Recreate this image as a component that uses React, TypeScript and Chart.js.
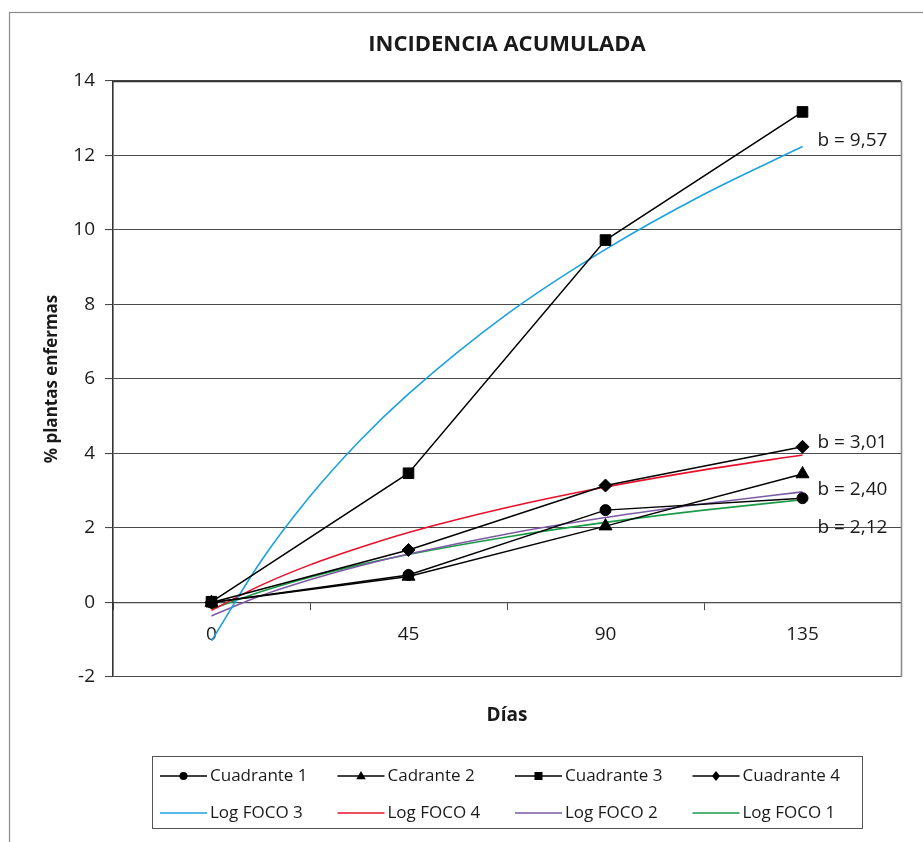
import React, { useEffect, useRef } from "react";
import { Chart, registerables } from "chart.js";

Chart.register(...registerables);

// ---- data ----
const DAYS = [0, 45, 90, 135];
const X_LABELS = ["0", "45", "90", "135"];
const CUADRANTE_1 = [0, 0.74, 2.48, 2.8];
const CADRANTE_2 = [0, 0.7, 2.05, 3.45];
const CUADRANTE_3 = [0.02, 3.47, 9.73, 13.17];
const CUADRANTE_4 = [0, 1.41, 3.14, 4.18];

const TREND_X = [0, 11.25, 22.5, 33.75, 45, 67.5, 90, 112.5, 135];
const LOG_FOCO_3 = [-1.03, 1.1, 2.85, 4.33, 5.6, 7.74, 9.48, 10.96, 12.24];
const LOG_FOCO_4 = [-0.21, 0.46, 1.01, 1.47, 1.88, 2.55, 3.1, 3.56, 3.96];
const LOG_FOCO_2 = [-0.36, 0.18, 0.61, 0.98, 1.3, 1.84, 2.28, 2.65, 2.97];
const LOG_FOCO_1 = [-0.18, 0.29, 0.68, 1.01, 1.29, 1.76, 2.15, 2.48, 2.76];

const SLOPE_LABELS = ["b = 9,57", "b = 3,01", "b = 2,40", "b = 2,12"];
const SLOPE_LABEL_Y = [12.39, 4.28, 3.02, 2.0];

const TITLE = "INCIDENCIA ACUMULADA";
const X_TITLE = "Días";
const Y_TITLE = "% plantas enfermas";

// ---- styles ----
const FONT = "'Open Sans', 'DejaVu Sans', sans-serif";
const TEXT = "#1a1a1a";
const GRID = "#4a4a4a";
const BLUE = "#1ba1e2";
const RED = "#e8102a";
const PURPLE = "#7d5aa5";
const GREEN = "#1a9b48";

const X_MIN = -22.5;
const X_MAX = 157.5;
const X_TICKS = [-22.5, 0, 22.5, 45, 67.5, 90, 112.5, 135, 157.5];

const pts = (xs: number[], ys: number[]) => xs.map((x, i) => ({ x, y: ys[i] }));

type LegendItem = { label: string; color: string; marker: string | null };
const LEGEND_ITEMS: LegendItem[] = [
  { label: "Cuadrante 1", color: "#000", marker: "circle" },
  { label: "Cadrante 2", color: "#000", marker: "triangle" },
  { label: "Cuadrante 3", color: "#000", marker: "rect" },
  { label: "Cuadrante 4", color: "#000", marker: "rectRot" },
  { label: "Log FOCO 3", color: BLUE, marker: null },
  { label: "Log FOCO 4", color: RED, marker: null },
  { label: "Log FOCO 2", color: PURPLE, marker: null },
  { label: "Log FOCO 1", color: GREEN, marker: null },
];

function drawMarker(ctx: CanvasRenderingContext2D, kind: string, x: number, y: number, s: number) {
  ctx.beginPath();
  if (kind === "circle") {
    ctx.arc(x, y, s * 0.8, 0, Math.PI * 2);
  } else if (kind === "triangle") {
    ctx.moveTo(x, y - s);
    ctx.lineTo(x + s * 0.95, y + s * 0.65);
    ctx.lineTo(x - s * 0.95, y + s * 0.65);
    ctx.closePath();
  } else if (kind === "rect") {
    ctx.rect(x - s * 0.8, y - s * 0.8, s * 1.6, s * 1.6);
  } else {
    ctx.moveTo(x, y - s);
    ctx.lineTo(x + s * 0.8, y);
    ctx.lineTo(x, y + s);
    ctx.lineTo(x - s * 0.8, y);
    ctx.closePath();
  }
  ctx.fillStyle = "#000";
  ctx.fill();
}

const decorPlugin = {
  id: "decor",
  afterDraw(chart: any) {
    const ctx: CanvasRenderingContext2D = chart.ctx;
    const area = chart.chartArea;
    const xs = chart.scales.x;
    const ys = chart.scales.y;
    ctx.save();

    // outer chart border
    ctx.strokeStyle = "#8c8c8c";
    ctx.lineWidth = 1.2;
    ctx.strokeRect(9.5, 12.5, 1200, 1200);

    // plot area top border and right border
    ctx.strokeStyle = "#333";
    ctx.lineWidth = 1.5;
    ctx.beginPath();
    ctx.moveTo(area.left, area.top + 0.5);
    ctx.lineTo(area.right, area.top + 0.5);
    ctx.stroke();
    ctx.strokeStyle = "#8c8c8c";
    ctx.lineWidth = 1.6;
    ctx.beginPath();
    ctx.moveTo(area.right + 0.5, area.top);
    ctx.lineTo(area.right + 0.5, area.bottom);
    ctx.stroke();

    // title
    const cx = (area.left + area.right) / 2;
    ctx.fillStyle = TEXT;
    ctx.textAlign = "center";
    ctx.textBaseline = "middle";
    ctx.font = `bold 22px ${FONT}`;
    ctx.fillText(TITLE, cx, 45);

    // x-axis title
    ctx.font = `bold 19px ${FONT}`;
    ctx.fillText(X_TITLE, cx, 716);

    // slope labels
    ctx.font = `19px ${FONT}`;
    ctx.textAlign = "left";
    const lx = xs.getPixelForValue(DAYS[DAYS.length - 1]) + 15;
    SLOPE_LABELS.forEach((t, i) => {
      ctx.fillText(t, lx, ys.getPixelForValue(SLOPE_LABEL_Y[i]));
    });

    // legend
    const boxL = 152.5, boxT = 756.5, boxW = 710, boxH = 72;
    ctx.strokeStyle = "#555";
    ctx.lineWidth = 1;
    ctx.strokeRect(boxL, boxT, boxW, boxH);
    const colX = [160, 337.5, 515, 692.5];
    const rowY = [776, 813];
    ctx.font = `17px ${FONT}`;
    ctx.textBaseline = "middle";
    LEGEND_ITEMS.forEach((it, i) => {
      const x0 = colX[i % 4];
      const y0 = rowY[Math.floor(i / 4)];
      ctx.strokeStyle = it.color;
      ctx.lineWidth = it.marker ? 1.5 : 1.6;
      ctx.beginPath();
      ctx.moveTo(x0, y0);
      ctx.lineTo(x0 + 47, y0);
      ctx.stroke();
      if (it.marker) drawMarker(ctx, it.marker, x0 + 23.5, y0, 5);
      ctx.fillStyle = TEXT;
      ctx.fillText(it.label, x0 + 50, y0);
    });

    ctx.restore();
  },
};

export default function App() {
  const ref = useRef<HTMLCanvasElement | null>(null);

  useEffect(() => {
    if (!ref.current) return;
    const dataSeries = (label: string, ys: number[], style: string, r: number) => ({
      label,
      data: pts(DAYS, ys),
      borderColor: "#000",
      backgroundColor: "#000",
      borderWidth: 1.5,
      pointStyle: style,
      pointRadius: r,
      pointBorderWidth: 1,
      pointBackgroundColor: "#000",
      pointBorderColor: "#000",
      tension: 0,
      fill: false,
    });
    const trend = (label: string, ys: number[], color: string) => ({
      label,
      data: pts(TREND_X, ys),
      borderColor: color,
      backgroundColor: color,
      borderWidth: 1.6,
      pointRadius: 0,
      cubicInterpolationMode: "monotone",
      fill: false,
    });

    const chart = new Chart(ref.current, {
      type: "line",
      data: {
        datasets: [
          dataSeries("Cuadrante 1", CUADRANTE_1, "circle", 5.5),
          dataSeries("Cadrante 2", CADRANTE_2, "triangle", 7.5),
          dataSeries("Cuadrante 3", CUADRANTE_3, "rect", 7.5),
          dataSeries("Cuadrante 4", CUADRANTE_4, "rectRot", 6.5),
          trend("Log FOCO 3", LOG_FOCO_3, BLUE),
          trend("Log FOCO 4", LOG_FOCO_4, RED),
          trend("Log FOCO 2", LOG_FOCO_2, PURPLE),
          trend("Log FOCO 1", LOG_FOCO_1, GREEN),
        ] as any,
      },
      options: {
        animation: false,
        responsive: true,
        maintainAspectRatio: false,
        events: [],
        layout: { padding: { top: 81, bottom: 165, left: 9, right: 22 } },
        plugins: {
          legend: { display: false },
          title: { display: false },
          tooltip: { enabled: false },
        },
        scales: {
          x: {
            type: "linear",
            position: { y: 0 } as any,
            min: X_MIN,
            max: X_MAX,
            afterBuildTicks: (scale: any) => {
              scale.ticks = X_TICKS.map((v) => ({ value: v }));
            },
            ticks: {
              autoSkip: false,
              maxRotation: 0,
              padding: 14,
              color: TEXT,
              font: { family: FONT, size: 19 },
              callback: (v: any) => {
                const i = DAYS.indexOf(Number(v));
                return i >= 0 ? X_LABELS[i] : "";
              },
            },
            grid: {
              drawOnChartArea: false,
              drawTicks: true,
              tickLength: 7,
              color: (c: any) =>
                c.tick && DAYS.indexOf(c.tick.value) >= 0 ? "rgba(0,0,0,0)" : GRID,
            },
            border: { display: true, color: GRID, width: 1.2 },
          },
          y: {
            type: "linear",
            min: -2,
            max: 14,
            afterFit: (scale: any) => {
              scale.width = 104;
            },
            ticks: {
              stepSize: 2,
              padding: 10,
              color: TEXT,
              font: { family: FONT, size: 19 },
            },
            grid: { color: GRID, lineWidth: 1.1, tickLength: 8, drawTicks: true },
            border: { display: true, color: "#333", width: 1.6 },
            title: {
              display: true,
              text: Y_TITLE,
              color: TEXT,
              font: { family: FONT, size: 17, weight: "bold" },
              padding: { top: 33, bottom: 0 },
            },
          },
        },
      },
      plugins: [decorPlugin],
    });
    return () => chart.destroy();
  }, []);

  return (
    <div
      style={{
        position: "fixed",
        left: 0,
        top: 0,
        width: 923,
        height: 842,
        background: "#fff",
      }}
    >
      <canvas ref={ref} />
    </div>
  );
}
